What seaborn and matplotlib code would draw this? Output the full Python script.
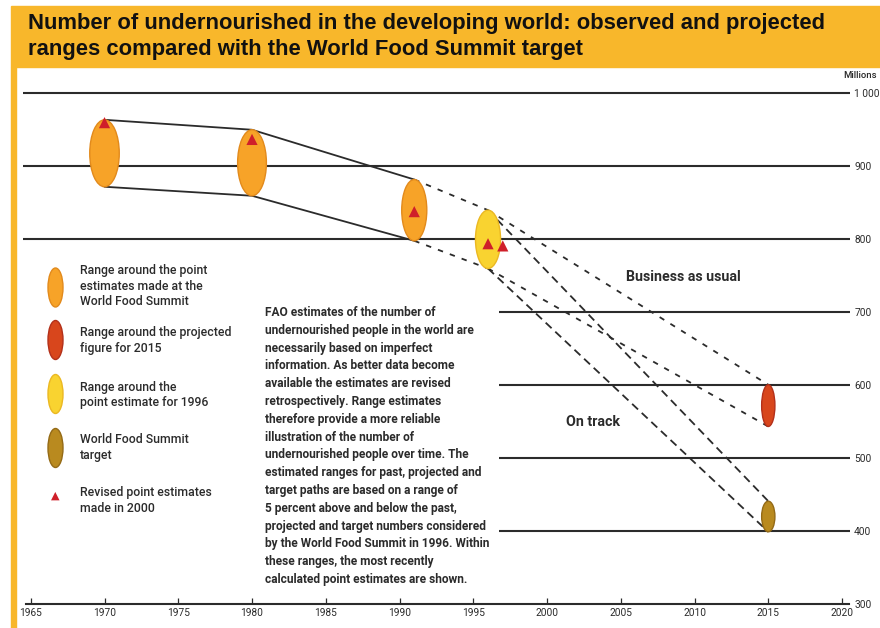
import matplotlib
matplotlib.use("Agg")
import matplotlib.pyplot as plt
from matplotlib.patches import Ellipse, Rectangle
import pandas as pd
import seaborn as sns

sns.set_style("white")
plt.rcParams["font.family"] = ["Roboto", "DejaVu Sans"]

# ---------------- data (millions of undernourished people) ----------------
wfs_years = [1970, 1980, 1991]            # 1969-71, 1979-81, 1990-92
wfs_estimates = [918, 905, 840]           # point estimates made at the World Food Summit
year_1996 = 1996
estimate_1996 = 800                       # point estimate for 1996
year_2015 = 2015
projected_2015 = 572                      # projected figure for 2015 (business as usual)
target_2015 = 420                         # World Food Summit target
revised_years = [1970, 1980, 1991, 1996, 1997]
revised_estimates = [960, 937, 838, 794, 791]   # revised point estimates made in 2000
range_share = 0.05                        # ranges are +/- 5 percent

year_ticks = [1965, 1970, 1975, 1980, 1985, 1990, 1995, 2000, 2005, 2010, 2015, 2020]
level_ticks = [300, 400, 500, 600, 700, 800, 900, 1000]
level_labels = ["300", "400", "500", "600", "700", "800", "900", "1 000"]
upper_levels = [800, 900, 1000]
lower_levels = [400, 500, 600, 700]

# ---------------- colours ----------------
BAND = "#F8B72B"
INK = "#2b2b2b"
C_WFS, E_WFS = "#F7A328", "#E28A1C"
C_PROJ, E_PROJ = "#D8461C", "#B3301A"
C_1996, E_1996 = "#F9D330", "#EBB822"
C_TGT, E_TGT = "#B98A1F", "#946A16"
C_TRI = "#CF1F2A"


def lo(v):
    return v * (1 - range_share)


def hi(v):
    return v * (1 + range_share)


fig = plt.figure(figsize=(8.8, 6.28), dpi=100)
W, H = 880.0, 628.0

# title band and left rule
fig.patches.append(Rectangle((11 / W, 1 - 67 / H), (W - 11) / W, 61 / H,
                             transform=fig.transFigure, color=BAND, zorder=0))
fig.patches.append(Rectangle((11 / W, 0), 5 / W, 1 - 67 / H,
                             transform=fig.transFigure, color=BAND, zorder=0))
title_font = ["Liberation Sans", "DejaVu Sans"]
fig.text(28 / W, 1 - 24 / H,
         "Number of undernourished in the developing world: observed and projected",
         fontsize=15.8, weight="bold", family=title_font, va="center", color="#111")
fig.text(28 / W, 1 - 49 / H,
         "ranges compared with the World Food Summit target",
         fontsize=15.8, weight="bold", family=title_font, va="center", color="#111")

# plot area
ax = fig.add_axes([16 / W, 0, (850 - 16) / W, (H - 67) / H])
ax.set_facecolor("none")

# horizontal reference lines
ax.hlines(upper_levels, 1964.5, 2020.54, color=INK, lw=1.5, zorder=1)
ax.hlines(lower_levels, 1996.75, 2020.54, color=INK, lw=1.5, zorder=1)


def path(xs, ys, ls, lw=1.3):
    df = pd.DataFrame({"x": xs, "y": ys})
    sns.lineplot(data=df, x="x", y="y", ax=ax, color=INK, lw=lw, ls=ls,
                 estimator=None, sort=False, zorder=2)


# observed range envelope
path(wfs_years, [hi(v) for v in wfs_estimates], "-")
path(wfs_years, [lo(v) for v in wfs_estimates], "-")
short = (0, (3.0, 4.0))
long_ = (0, (4.5, 2.8))
path([wfs_years[-1], year_1996], [hi(wfs_estimates[-1]), hi(estimate_1996)], short)
path([wfs_years[-1], year_1996], [lo(wfs_estimates[-1]), lo(estimate_1996)], short)
# business as usual
path([year_1996, year_2015], [hi(estimate_1996), hi(projected_2015)], short)
path([year_1996, year_2015], [lo(estimate_1996), lo(projected_2015)], short)
# on track
path([year_1996, year_2015], [hi(estimate_1996), hi(target_2015)], long_)
path([year_1996, year_2015], [lo(estimate_1996), lo(target_2015)], long_)

# range ellipses
ranges = [
    (wfs_years[0], wfs_estimates[0], 2.0, C_WFS, E_WFS),
    (wfs_years[1], wfs_estimates[1], 1.95, C_WFS, E_WFS),
    (wfs_years[2], wfs_estimates[2], 1.7, C_WFS, E_WFS),
    (year_1996, estimate_1996, 1.7, C_1996, E_1996),
    (year_2015, projected_2015, 0.9, C_PROJ, E_PROJ),
    (year_2015, target_2015, 0.9, C_TGT, E_TGT),
]
for x, v, w, fc, ec in ranges:
    ax.add_patch(Ellipse((x, v), w, hi(v) - lo(v), facecolor=fc, edgecolor=ec,
                         lw=1.0, zorder=3))

# revised point estimates
sns.scatterplot(x=revised_years, y=revised_estimates, ax=ax, marker="^", s=65,
                color=C_TRI, edgecolor="none", zorder=4, legend=False)

# axes styling
ax.set_xlim(1964.0, 2020.54)
ax.set_ylim(267.1, 1036.3)
for s in ("left", "top", "right"):
    ax.spines[s].set_visible(False)
ax.spines["bottom"].set_position(("data", 300))
ax.spines["bottom"].set_bounds(1964.7, 2020.5)
ax.spines["bottom"].set_color(INK)
ax.spines["bottom"].set_linewidth(1.5)
ax.set_xticks(year_ticks)
ax.set_xticklabels([str(y) for y in year_ticks])
ax.tick_params(axis="x", direction="in", length=4, width=0.9, color=INK,
               labelsize=7.3, labelcolor=INK, pad=3, bottom=True)
ax.yaxis.tick_right()
ax.set_yticks(level_ticks)
ax.set_yticklabels(level_labels)
ax.tick_params(axis="y", length=0, labelsize=7.3, labelcolor=INK, pad=3)
ax.set_xlabel("")
ax.set_ylabel("")

ax.text(2005.36, 748.4, "Business as usual", fontsize=10.2,
        weight="bold", color=INK, va="center")
ax.text(2001.3, 549.6, "On track", fontsize=10.2,
        weight="bold", color=INK, va="center")

fig.text(877 / W, 1 - 75 / H, "Millions", fontsize=6.8, ha="right", va="center",
         color=INK, weight="medium")

# key
key = [
    (287.5, C_WFS, E_WFS, "Range around the point\nestimates made at the\nWorld Food Summit", 286),
    (340, C_PROJ, E_PROJ, "Range around the projected\nfigure for 2015", 340.5),
    (394, C_1996, E_1996, "Range around the\npoint estimate for 1996", 395),
    (448, C_TGT, E_TGT, "World Food Summit\ntarget", 447.5),
]
for cy, fc, ec, label, ty in key:
    fig.patches.append(Ellipse((55.5 / W, 1 - cy / H), 15 / W, 39 / H,
                               transform=fig.transFigure, facecolor=fc,
                               edgecolor=ec, lw=1.0, zorder=3))
    fig.text(80 / W, 1 - ty / H, label, fontsize=8.8, color=INK, va="center",
             linespacing=1.22, weight="medium")
fig.text(55 / W, 1 - 496 / H, "\u25B2", fontsize=8, color=C_TRI, ha="center",
         va="center", family=["DejaVu Sans"])
fig.text(80 / W, 1 - 500.5 / H, "Revised point estimates\nmade in 2000", fontsize=8.8,
         color=INK, va="center", linespacing=1.22, weight="medium")

note = ("FAO estimates of the number of\n"
        "undernourished people in the world are\n"
        "necessarily based on imperfect\n"
        "information. As better data become\n"
        "available the estimates are revised\n"
        "retrospectively. Range estimates\n"
        "therefore provide a more reliable\n"
        "illustration of the number of\n"
        "undernourished people over time. The\n"
        "estimated ranges for past, projected and\n"
        "target paths are based on a range of\n"
        "5 percent above and below the past,\n"
        "projected and target numbers considered\n"
        "by the World Food Summit in 1996. Within\n"
        "these ranges, the most recently\n"
        "calculated point estimates are shown.")
fig.text(265 / W, 1 - 446 / H, note, fontsize=8.6, color=INK, va="center",
         linespacing=1.48, weight="bold")

fig.savefig("out.png", dpi=100)
